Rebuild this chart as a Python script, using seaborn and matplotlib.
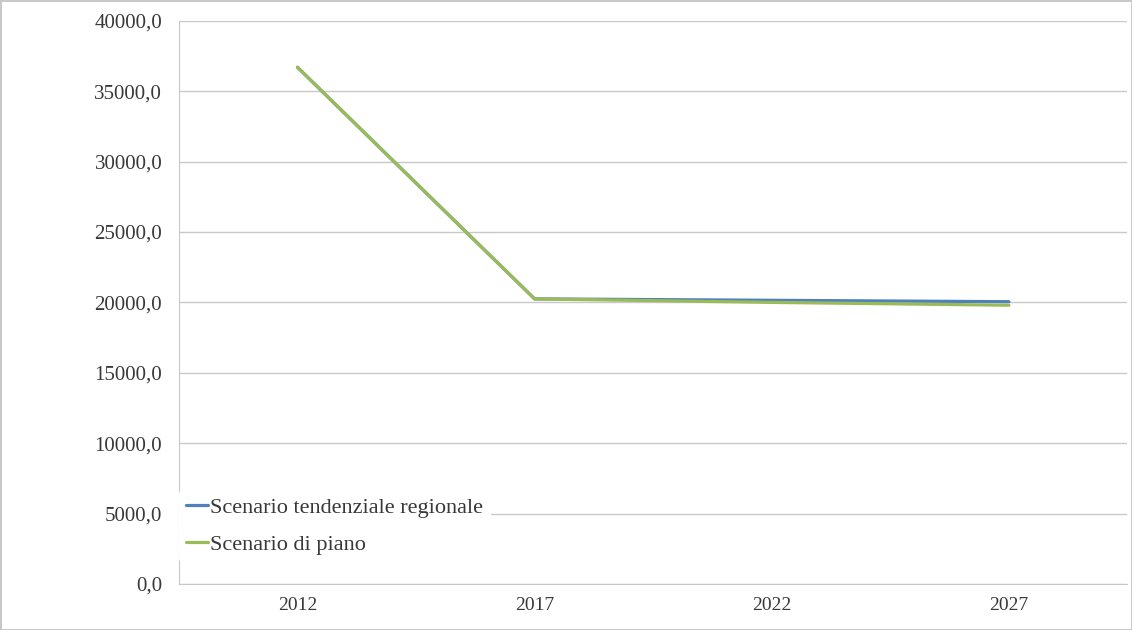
import pandas as pd
import matplotlib.pyplot as plt
import seaborn as sns
from matplotlib.ticker import FuncFormatter

# Values
years = ['2012', '2017', '2022', '2027']
scenario_tendenziale = [36700, 20250, 20150, 20050]
scenario_piano = [36700, 20250, 20000, 19800]
series_names = ['Scenario tendenziale regionale', 'Scenario di piano']
colors = ['#4F81BD', '#9BBB59']

df = pd.DataFrame({
    'Anno': years * 2,
    'Valore': scenario_tendenziale + scenario_piano,
    'Scenario': [series_names[0]] * 4 + [series_names[1]] * 4,
})

sns.set_style('white')
plt.rcParams['font.family'] = ['Liberation Serif', 'DejaVu Serif']

fig = plt.figure(figsize=(11.32, 6.3), dpi=100, edgecolor='#c8c8c8', linewidth=2)
ax = fig.add_axes([0.158, 0.073, 0.838, 0.894])

sns.lineplot(data=df, x='Anno', y='Valore', hue='Scenario', palette=colors,
             linewidth=2.3, ax=ax, sort=False)

ax.set_xlim(-0.5, 3.5)
ax.set_ylim(0, 40000)
ax.set_yticks(range(0, 40001, 5000))
ax.yaxis.set_major_formatter(FuncFormatter(lambda v, p: f'{v:.1f}'.replace('.', ',')))
ax.grid(axis='y', color='#c8c8c8', linewidth=1)
ax.set_axisbelow(True)
ax.set_xlabel('')
ax.set_ylabel('')
ax.tick_params(axis='y', labelsize=15, colors='#383838', length=0, pad=12)
ax.tick_params(axis='x', labelsize=14, colors='#383838', length=0, pad=9)

for side in ['top', 'right']:
    ax.spines[side].set_visible(False)
ax.spines['left'].set_color('#c8c8c8')
ax.spines['bottom'].set_color('#c8c8c8')

leg = ax.legend(loc='lower left', bbox_to_anchor=(0.0, 0.04), frameon=True,
                fontsize=16, handlelength=1.0, handletextpad=0.1,
                labelspacing=0.75, borderaxespad=0.0, borderpad=0.3)
leg.get_frame().set_facecolor('white')
leg.get_frame().set_edgecolor('white')
leg.get_frame().set_alpha(1)
for t in leg.get_texts():
    t.set_color('#383838')

fig.savefig('out.png', dpi=100)
